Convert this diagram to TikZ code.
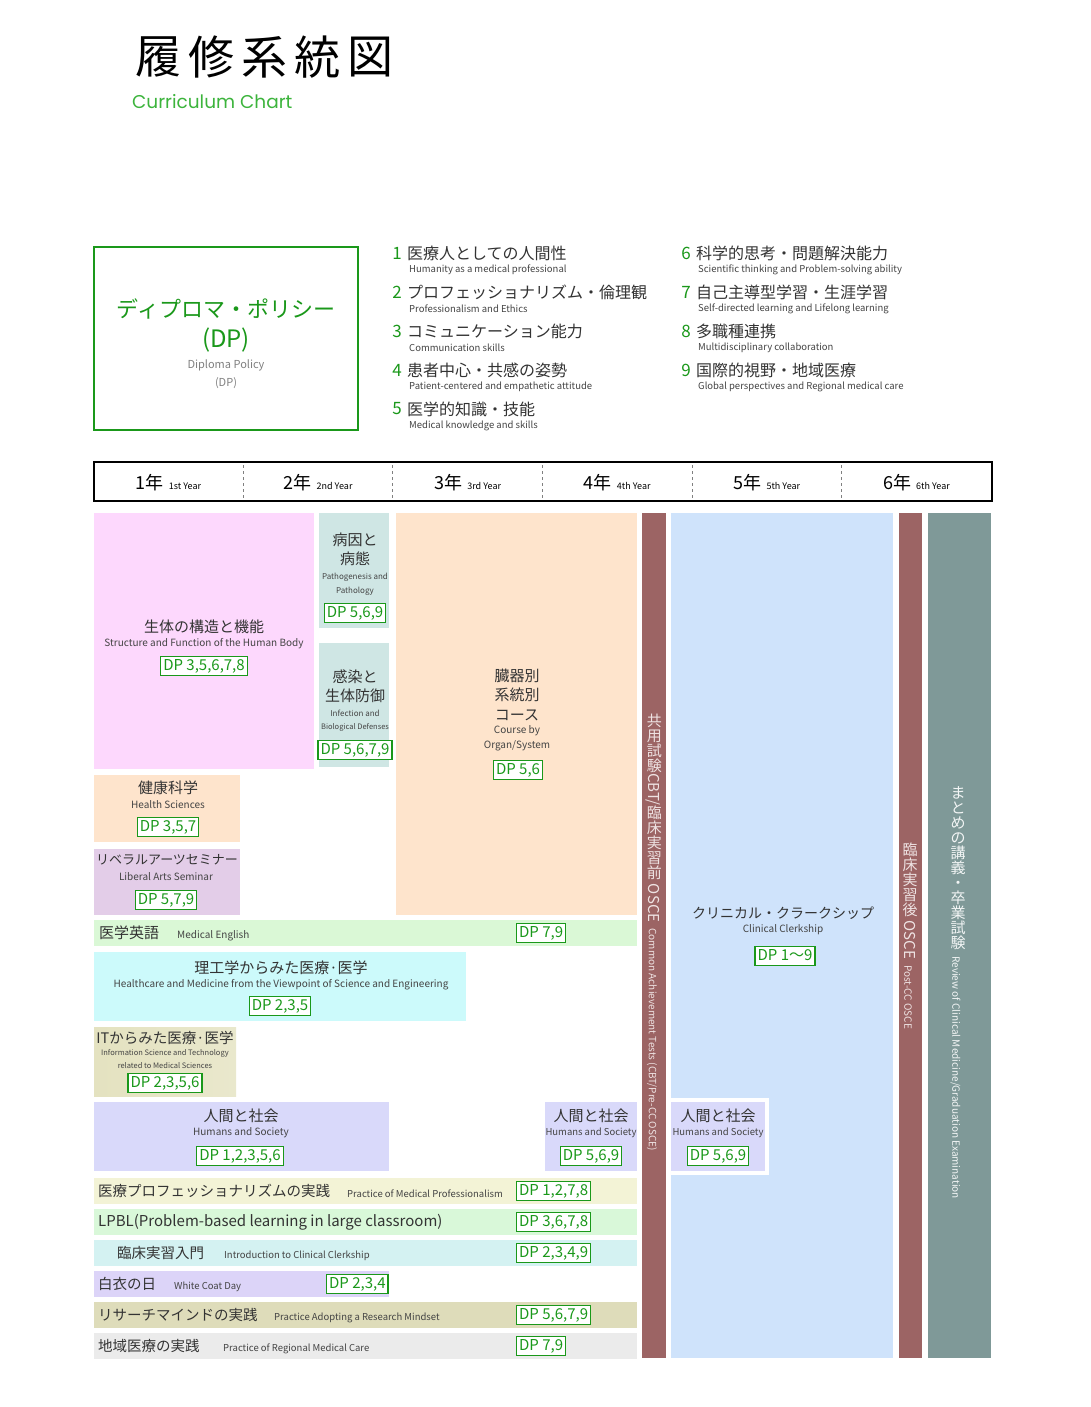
\documentclass[tikz,border=0pt]{standalone}
\usepackage{fontspec}
\usepackage{graphicx}
\setmainfont{Noto Sans CJK JP}
\newfontfamily\widefont{Poppins}
\definecolor{dpgreen}{HTML}{1A981A}
\definecolor{ttlgreen}{HTML}{3CB43C}
\definecolor{jpgray}{HTML}{333333}
\definecolor{engray}{HTML}{444444}
\definecolor{pinkbg}{HTML}{FDD8FD}
\definecolor{tealbg}{HTML}{CFE6E4}
\definecolor{peachbg}{HTML}{FEE4CC}
\definecolor{rosebar}{HTML}{9C6464}
\definecolor{bluebg}{HTML}{CFE3FB}
\definecolor{slatebar}{HTML}{7F9998}
\definecolor{lilacbg}{HTML}{E3CDE8}
\definecolor{mintbg}{HTML}{DAF8D6}
\definecolor{cyanbg}{HTML}{CCFAFB}
\definecolor{khakibg}{HTML}{E4E2C0}
\definecolor{lavbg}{HTML}{D9D9FA}
\definecolor{creambg}{HTML}{F3F3D6}
\definecolor{greenbg}{HTML}{D9F8D9}
\definecolor{aquabg}{HTML}{D4F2F2}
\definecolor{violetbg}{HTML}{DCD4F8}
\definecolor{olivebg}{HTML}{DEDCBA}
\definecolor{greybg}{HTML}{EBEBEB}
\definecolor{bartext}{HTML}{EEE2E2}
\newcommand{\fsz}[1]{\fontsize{#1}{#1}\selectfont}
\newcommand{\vj}[1]{\rotatebox[origin=c]{90}{\makebox[1em]{\rule[-0.12em]{0pt}{1em}#1}}}
\tikzset{
jp/.style={text=jpgray, font=\fsz{15}, inner sep=0pt},
en/.style={text=engray, font=\fsz{10}, inner sep=0pt},
dp/.style={draw=dpgreen, line width=1.2pt, fill=white, text=dpgreen,
    font=\fsz{15}, inner xsep=2.5pt, inner ysep=0pt, minimum height=19pt,
    text height=11pt, text depth=2pt},
vbar/.style={rotate=-90, anchor=west, inner sep=0pt, text=bartext, font=\fsz{15}}
}

\begin{document}
\begin{tikzpicture}[x=1pt, y=-1pt]
\useasboundingbox[fill=white] (0,0) rectangle (1090,1407);

\foreach \c [count=\i] in {履,修,系,統,図}
  \node[inner sep=0pt, font=\fsz{46}] (ttl\i) at ({158+53*(\i-1)},57) {\c};
\node[anchor=west, inner sep=0pt, text=ttlgreen, font=\widefont\fsz{18.5}] (sub) at (132,102) {Curriculum Chart};

\draw[dpgreen, line width=2pt] (94,247) rectangle (358,430);
\node[inner sep=0pt, text=dpgreen, font=\fsz{22}] (dpjp) at (226,309) {ディプロマ・ポリシー};
\node[inner sep=0pt, text=dpgreen, font=\fsz{24}] (dpab) at (226,340) {(DP)};
\node[en, text=gray, font=\fsz{11}] (dpen) at (226,365) {Diploma Policy};
\node[en, text=gray, font=\fsz{11}] (dpen2) at (226,383) {(DP)};

\foreach \n/\jp/\en [count=\i] in {1/医療人としての人間性/Humanity as a medical professional,
    2/プロフェッショナリズム・倫理観/Professionalism and Ethics,
    3/コミュニケーション能力/Communication skills,
    4/患者中心・共感の姿勢/Patient-centered and empathetic attitude,
    5/医学的知識・技能/Medical knowledge and skills}{
  \node[inner sep=0pt, text=dpgreen, font=\fsz{17}] (num\n) at (397,{253+39*(\i-1)}) {\n};
  \node[jp, font=\fsz{16}, anchor=west] (pol\n) at (407,{253+39*(\i-1)}) {\jp};
  \node[en, font=\fsz{9.5}, anchor=west] (pen\n) at (409,{270+39*(\i-1)}) {\en};
}
\foreach \n/\jp/\en [count=\i] in {6/科学的思考・問題解決能力/Scientific thinking and Problem-solving ability,
    7/自己主導型学習・生涯学習/Self-directed learning and Lifelong learning,
    8/多職種連携/Multidisciplinary collaboration,
    9/国際的視野・地域医療/Global perspectives and Regional medical care}{
  \node[inner sep=0pt, text=dpgreen, font=\fsz{17}] (num\n) at (686,{253+39*(\i-1)}) {\n};
  \node[jp, font=\fsz{16}, anchor=west] (pol\n) at (696,{253+39*(\i-1)}) {\jp};
  \node[en, font=\fsz{9.5}, anchor=west] (pen\n) at (698,{270+39*(\i-1)}) {\en};
}

\draw[line width=2.5pt] (94,462) rectangle (992,501);
\foreach \x in {243,392,542,692,841}
  \draw[dashed, gray] (\x,465) -- (\x,499);
\foreach \i/\sfx in {1/st,2/nd,3/rd,4/th,5/th,6/th}
  \node[inner sep=0pt] (yr\i) at ({168.5+149.6*(\i-1)},483)
    {{\fsz{18}\i 年}\hspace{5pt}{\fsz{9}\i\sfx\ Year}};

\fill[pinkbg] (94,513) rectangle (314,769);
\node[jp] (sk) at (204,627) {生体の構造と機能};
\node[en] (sk-en) at (204,644) {Structure and Function of the Human Body};
\node[dp] (sk-dp) at (204,666) {DP 3,5,6,7,8};

\fill[tealbg] (319,513) rectangle (389,628);
\node[jp] (pp1) at (355,540) {病因と};
\node[jp] (pp2) at (355,559) {病態};
\node[en, font=\fsz{8}] (pp-en1) at (355,577) {Pathogenesis and};
\node[en, font=\fsz{8}] (pp-en2) at (355,591) {Pathology};
\node[dp] (pp-dp) at (355,613) {DP 5,6,9};

\fill[tealbg] (319,643) rectangle (389,767);
\node[jp] (ib1) at (355,677) {感染と};
\node[jp] (ib2) at (355,696) {生体防御};
\node[en, font=\fsz{8}] (ib-en1) at (355,713) {Infection and};
\node[en, font=\fsz{7.5}] (ib-en2) at (355,727) {Biological Defenses};
\node[dp] (ib-dp) at (355,750) {DP 5,6,7,9};

\fill[peachbg] (396,513) rectangle (637,915);
\node[jp] (os1) at (517,676) {臓器別};
\node[jp] (os2) at (517,695) {系統別};
\node[jp] (os3) at (517,715) {コース};
\node[en] (os-en1) at (517,731) {Course by};
\node[en] (os-en2) at (517,746) {Organ/System};
\node[dp] (os-dp) at (518,770) {DP 5,6};

\fill[peachbg] (94,775) rectangle (240,842);
\node[jp] (hs) at (168,788) {健康科学};
\node[en] (hs-en) at (168,805) {Health Sciences};
\node[dp] (hs-dp) at (168,827) {DP 3,5,7};

\fill[lilacbg] (94,849) rectangle (240,915);
\node[jp, font=\fsz{13}] (la) at (167,860) {リベラルアーツセミナー};
\node[en] (la-en) at (166,877) {Liberal Arts Seminar};
\node[dp] (la-dp) at (166,900) {DP 5,7,9};

\fill[mintbg] (94,920) rectangle (637,946);
\node[jp, anchor=west] (me) at (99,933) {医学英語};
\node[en, anchor=west] (me-en) at (177,936) {Medical English};
\node[dp, anchor=west] (me-dp) at (516,933) {DP 7,9};

\fill[cyanbg] (94,952) rectangle (466,1021);
\node[jp] (se) at (281,968) {理工学からみた医療·医学};
\node[en] (se-en) at (281,985) {Healthcare and Medicine from the Viewpoint of Science and Engineering};
\node[dp] (se-dp) at (280,1006) {DP 2,3,5};

\shade[left color=khakibg, right color=khakibg!80!white] (94,1027) rectangle (236,1096);
\node[jp, font=\fsz{14.5}] (it) at (165,1038) {ITからみた医療·医学};
\node[en, font=\fsz{7.5}] (it-en1) at (165,1053) {Information Science and Technology};
\node[en, font=\fsz{7.5}] (it-en2) at (165,1066) {related to Medical Sciences};
\node[dp] (it-dp) at (165,1083) {DP 2,3,5,6};

\fill[lavbg] (94,1102) rectangle (389,1171);
\node[jp] (hm1) at (241,1116) {人間と社会};
\node[en] (hm1-en) at (241,1133) {Humans and Society};
\node[dp] (hm1-dp) at (240,1156) {DP 1,2,3,5,6};

\fill[lavbg] (545,1102) rectangle (637,1171);
\node[jp] (hm2) at (591,1116) {人間と社会};
\node[en, font=\fsz{9.5}] (hm2-en) at (591,1133) {Humans and Society};
\node[dp] (hm2-dp) at (591,1156) {DP 5,6,9};

\fill[creambg] (94,1178) rectangle (637,1204);
\node[jp, font=\fsz{14.5}, anchor=west] (pm) at (98,1191) {医療プロフェッショナリズムの実践};
\node[en, font=\fsz{9.5}, anchor=west] (pm-en) at (347,1194) {Practice of Medical Professionalism};
\node[dp, anchor=west] (pm-dp) at (516,1191) {DP 1,2,7,8};

\fill[greenbg] (94,1209) rectangle (637,1235);
\node[jp, anchor=west] (lp) at (98,1222) {LPBL(Problem-based learning in large classroom)};
\node[dp, anchor=west] (lp-dp) at (516,1222) {DP 3,6,7,8};

\fill[aquabg] (94,1240) rectangle (637,1266);
\node[jp, font=\fsz{14.5}, anchor=west] (ic) at (117,1253) {臨床実習入門};
\node[en, font=\fsz{9.5}, anchor=west] (ic-en) at (224,1256) {Introduction to Clinical Clerkship};
\node[dp, anchor=west] (ic-dp) at (516,1253) {DP 2,3,4,9};

\fill[violetbg] (94,1271) rectangle (389,1297);
\node[jp, font=\fsz{14.5}, anchor=west] (wc) at (98,1284) {白衣の日};
\node[en, font=\fsz{9.5}, anchor=west] (wc-en) at (174,1287) {White Coat Day};
\node[dp, anchor=west] (wc-dp) at (326,1284) {DP 2,3,4};

\fill[olivebg] (94,1302) rectangle (637,1328);
\node[jp, font=\fsz{14.5}, anchor=west] (rm) at (98,1315) {リサーチマインドの実践};
\node[en, font=\fsz{9.5}, anchor=west] (rm-en) at (274,1318) {Practice Adopting a Research Mindset};
\node[dp, anchor=west] (rm-dp) at (516,1315) {DP 5,6,7,9};

\fill[greybg] (94,1333) rectangle (637,1359);
\node[jp, font=\fsz{14.5}, anchor=west] (rc) at (98,1346) {地域医療の実践};
\node[en, font=\fsz{9.5}, anchor=west] (rc-en) at (223,1349) {Practice of Regional Medical Care};
\node[dp, anchor=west] (rc-dp) at (516,1346) {DP 7,9};

\fill[rosebar] (642,513) rectangle (666,1358);
\node[vbar] (cbt) at (654,713) {\vj{共}\vj{用}\vj{試}\vj{験}CBT/\vj{臨}\vj{床}\vj{実}\vj{習}\vj{前} OSCE\hspace{6pt}{\fsz{10}Common Achievement Tests (CBT/Pre-CC OSCE)}};

\fill[bluebg] (671,513) rectangle (893,1358);
\node[jp, font=\fsz{14}] (cc) at (783,913) {クリニカル・クラークシップ};
\node[en] (cc-en) at (783,930) {Clinical Clerkship};
\node[dp] (cc-dp) at (785,956) {DP 1〜9};

\fill[white] (668,1098) rectangle (769,1175);
\fill[lavbg] (671,1102) rectangle (765,1171);
\node[jp] (hm3) at (718,1116) {人間と社会};
\node[en, font=\fsz{9.5}] (hm3-en) at (718,1133) {Humans and Society};
\node[dp] (hm3-dp) at (718,1156) {DP 5,6,9};

\fill[rosebar] (899,513) rectangle (922,1358);
\node[vbar] (post) at (910,842) {\vj{臨}\vj{床}\vj{実}\vj{習}\vj{後} OSCE\hspace{6pt}{\fsz{10}Post-CC OSCE}};

\fill[slatebar] (928,513) rectangle (991,1358);
\node[vbar, text=white!90!slatebar] (rev) at (958,785) {\vj{ま}\vj{と}\vj{め}\vj{の}\vj{講}\vj{義}\vj{・}\vj{卒}\vj{業}\vj{試}\vj{験}\hspace{6pt}{\fsz{10}Review of Clinical Medicine/Graduation Examination}};
\end{tikzpicture}
\end{document}
